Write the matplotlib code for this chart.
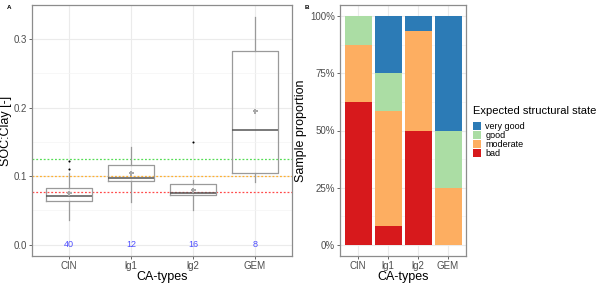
import matplotlib
matplotlib.use("Agg")
import matplotlib.pyplot as plt
import numpy as np
from matplotlib.patches import Patch

plt.rcParams['font.family'] = ['Liberation Sans', 'DejaVu Sans']

categories = ["CIN", "lg1", "lg2", "GEM"]
counts = [40, 12, 16, 8]
whis_lo = [0.036, 0.062, 0.050, 0.092]
q1 = [0.064, 0.093, 0.072, 0.104]
median = [0.071, 0.097, 0.076, 0.167]
q3 = [0.082, 0.116, 0.089, 0.283]
whis_hi = [0.105, 0.143, 0.095, 0.333]
means = [0.075, 0.105, 0.080, 0.195]
outliers = [[0.110, 0.122], [], [0.150], []]
thresholds = [0.125, 0.100, 0.077]
threshold_colors = ["#55dd55", "#ffb030", "#ff4a4a"]

states = ["bad", "moderate", "good", "very good"]
state_colors = ["#D7191C", "#FDAE61", "#ABDDA4", "#2C7BB6"]
proportions = {
    "bad":       [0.625, 0.0833, 0.50, 0.00],
    "moderate":  [0.250, 0.5000, 0.4375, 0.25],
    "good":      [0.125, 0.1667, 0.00, 0.25],
    "very good": [0.000, 0.2500, 0.0625, 0.50],
}

W, H = 600, 284
fig = plt.figure(figsize=(6, 2.84), dpi=100)

def add_ax(x0, y0, x1, y1):
    return fig.add_axes([x0 / W, 1 - y1 / H, (x1 - x0) / W, (y1 - y0) / H])

grid_col = "#ebebeb"
border_col = "#8c8c8c"
tick_col = "#4d4d4d"

# Panel A
axA = add_ax(32, 5, 292, 256)
pos = np.arange(1, len(categories) + 1)
stats = []
for i in range(len(categories)):
    stats.append(dict(med=median[i], q1=q1[i], q3=q3[i], whislo=whis_lo[i],
                      whishi=whis_hi[i], mean=means[i], fliers=outliers[i]))
axA.bxp(stats, positions=pos, widths=0.75, showmeans=True, showcaps=False,
        boxprops=dict(color="#9a9a9a", linewidth=0.9),
        whiskerprops=dict(color="#9a9a9a", linewidth=0.9),
        medianprops=dict(color="#555555", linewidth=1.1),
        meanprops=dict(marker="P", markersize=3.6, markerfacecolor="#a8a8a8",
                       markeredgecolor="#a8a8a8", markeredgewidth=0),
        flierprops=dict(marker="o", markersize=1.5, markerfacecolor="black",
                        markeredgecolor="black", markeredgewidth=0), zorder=3)
for t, c in zip(thresholds, threshold_colors):
    axA.axhline(t, color=c, linestyle=(0, (1.5, 1.5)), linewidth=0.9, zorder=2)
for p, n in zip(pos, counts):
    axA.text(p, 0.0, str(n), color="#4d4dff", fontsize=6.5, ha="center", va="center", zorder=4)
axA.set_xlim(0.4, 4.6)
axA.set_ylim(-0.0167, 0.35)
axA.set_yticks([0.0, 0.1, 0.2, 0.3])
axA.set_yticks([0.05, 0.15, 0.25], minor=True)
axA.set_yticklabels(["0.0", "0.1", "0.2", "0.3"])
axA.set_xticks(pos)
axA.set_xticklabels(categories)
axA.grid(True, which="major", color=grid_col, linewidth=0.8, zorder=0)
axA.grid(True, which="minor", axis="y", color="#f4f4f4", linewidth=0.5, zorder=0)
axA.set_axisbelow(True)
axA.set_xlabel("CA-types", fontsize=9, labelpad=0)
axA.set_ylabel("SOC:Clay [-]", fontsize=9, labelpad=1)
axA.text(-0.095, 1.0, "A", transform=axA.transAxes, fontsize=4.5, fontweight="bold", va="top")

# Panel B
axB = add_ax(340, 5, 466, 256)
bottom = np.zeros(len(categories))
for s, c in zip(states, state_colors):
    vals = np.array(proportions[s])
    axB.bar(pos, vals, bottom=bottom, width=0.9, color=c, zorder=3, label=s)
    bottom += vals
axB.set_xlim(0.4, 4.6)
axB.set_ylim(-0.05, 1.05)
axB.set_yticks([0, 0.25, 0.5, 0.75, 1.0])
axB.set_yticklabels(["0%", "25%", "50%", "75%", "100%"])
axB.set_yticks([0.125, 0.375, 0.625, 0.875], minor=True)
axB.set_xticks(pos)
axB.set_xticklabels(categories)
axB.grid(True, which="major", color=grid_col, linewidth=0.8, zorder=0)
axB.grid(True, which="minor", axis="y", color="#f4f4f4", linewidth=0.5, zorder=0)
axB.set_axisbelow(True)
axB.set_xlabel("CA-types", fontsize=9, labelpad=0)
axB.set_ylabel("Sample proportion", fontsize=9, labelpad=2)
axB.text(-0.28, 1.0, "B", transform=axB.transAxes, fontsize=4.5, fontweight="bold", va="top")

for ax in (axA, axB):
    for sp in ax.spines.values():
        sp.set_color(border_col)
        sp.set_linewidth(0.9)
    ax.tick_params(axis="both", which="major", labelsize=7, colors=tick_col,
                   length=2.5, width=0.6, pad=1.2)
    ax.tick_params(axis="both", which="minor", length=0)

handles = [Patch(facecolor=c, label=s) for s, c in zip(states[::-1], state_colors[::-1])]
leg = fig.legend(handles=handles, title="Expected structural state",
                 loc="upper left", bbox_to_anchor=(473 / W, 1 - 106 / H),
                 frameon=False, fontsize=6.5, title_fontsize=8,
                 handlelength=0.9, handleheight=1.0, labelspacing=0.0,
                 handletextpad=0.45, borderaxespad=0, borderpad=0)
leg._legend_box.align = "left"
leg._legend_box.sep = 4

fig.savefig("out.png", dpi=100)
